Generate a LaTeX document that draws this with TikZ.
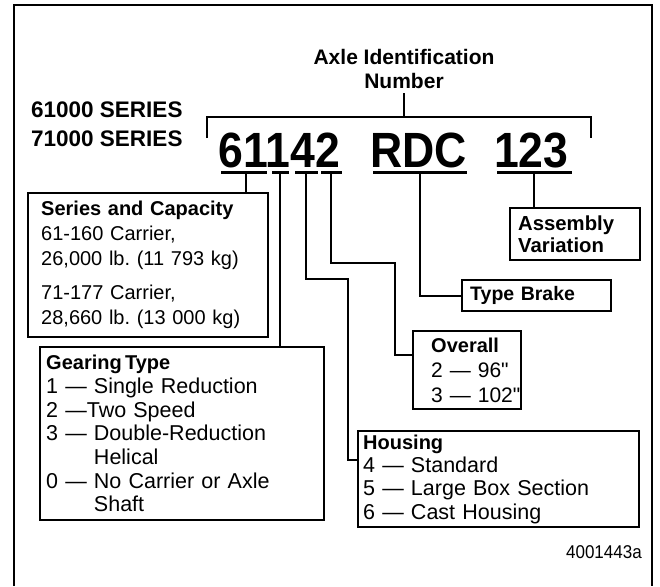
\documentclass[tikz,border=0pt]{standalone}
\usepackage{fontspec}
\setmainfont{Liberation Sans}
\newfontfamily\idfont[FakeStretch=0.9]{Liberation Sans}
\newfontfamily\fignumfont[FakeStretch=0.92]{Liberation Sans}
\usepackage{tikz}
\usetikzlibrary{calc,positioning}
\frenchspacing

\begin{document}
\begin{tikzpicture}[x=1pt,y=-1pt,
  infobox/.style={draw, line width=2.4pt, anchor=north west, align=left, inner ysep=0pt},
  lead/.style={line width=2pt},
  uline/.style={line width=3pt},
  bigid/.style={font=\idfont\bfseries\fontsize{49.5}{49.5}\selectfont, inner sep=0pt, anchor=base west},
  serlbl/.style={font=\bfseries\fontsize{22.5}{22.5}\selectfont, inner sep=0pt, anchor=base west}]
\useasboundingbox (0,0) rectangle (660,586);
\draw[line width=2.6pt] (14,586) -- (14,5) -- (652,5) -- (652,586);

% series and title
\node[serlbl] (ser61) at (31,117.5) {61000 SERIES};
\node[serlbl] (ser71) at (31,146) {71000 SERIES};
\node[font=\bfseries\fontsize{21}{24}\selectfont, align=center, inner sep=0pt] (title) at (404,69) {Axle Identification\\Number};

% bracket
\coordinate (brkL) at (207,117);
\coordinate (brkR) at (591,117);
\draw[lead] ([yshift=-21pt]brkL) -- (brkL) -- (brkR) -- ([yshift=-21pt]brkR);
\draw[lead] ([yshift=-4.5pt]title.south) -- (title.south |- brkL);

% the number
\node[bigid] (idA) at (218.5,167) {61142};
\node[bigid] (idB) at (370,167) {RDC};
\node[bigid] (idC) at (494,167) {123};
\foreach \a/\b/\m/\n in {221/267/246/sc, 272/289/280/gt, 295/318/306/hs, 321/342/331/ov, 373/467/420/tb, 497/572/534/av} {
  \draw[uline] (\a,172) -- (\b,172);
  \coordinate (u\n) at (\m,172);
}

% boxes
\node[infobox, font=\fontsize{20}{25}\selectfont, inner xsep=13pt, text width=214pt, minimum height=144pt] (sercap) at (27,192)
  {{\bfseries Series and Capacity}\\61-160 Carrier,\\26,000 lb. (11 793 kg)\\[9pt]71-177 Carrier,\\28,660 lb. (13 000 kg)};
\node[infobox, font=\fontsize{21.5}{23.7}\selectfont, inner xsep=6pt, text width=272pt, minimum height=173pt] (gear) at (39,346)
  {{\bfseries\fontsize{20}{23.7}\selectfont Gearing\,Type}\\1 — Single Reduction\\2 —Two Speed\\3 — Double-Reduction\\\phantom{3 — }Helical\\0 — No Carrier or Axle\\\phantom{0 — }Shaft};
\node[infobox, font=\fontsize{21}{25}\selectfont, inner xsep=18pt, text width=72pt, minimum height=78pt] (over) at (412,330)
  {{\bfseries\fontsize{20}{25}\selectfont Overall}\\\mbox{2 — 96\textquotedbl}\\\mbox{3 — 102\textquotedbl}};
\node[infobox, font=\fontsize{21.5}{23.3}\selectfont, inner xsep=5pt, text width=271pt, minimum height=96pt] (house) at (357,430)
  {{\bfseries\fontsize{20}{23.3}\selectfont Housing}\\4 — Standard\\5 — Large Box Section\\6 — Cast Housing};
\node[infobox, font=\bfseries\fontsize{19.5}{22}\selectfont, inner xsep=8pt, text width=133pt, minimum height=31pt] (brake) at (461,279) {Type Brake};
\node[infobox, font=\bfseries\fontsize{20.3}{22}\selectfont, inner xsep=8pt, text width=114pt, minimum height=52pt] (asm) at (509,207) {Assembly\\Variation};

% leads
\coordinate (hsbend) at (348,279);
\coordinate (ovbend) at (395,263);
\draw[lead] (usc) -- (usc |- sercap.north);
\draw[lead] (ugt) -- (ugt |- gear.north);
\draw[lead] (uhs) |- (hsbend) |- ([yshift=19pt]house.west);
\draw[lead] (uov) |- (ovbend) |- ([yshift=15pt]over.west);
\draw[lead] (utb) |- (brake.west);
\draw[lead] (uav) -- (uav |- asm.north);

\node[font=\fignumfont\fontsize{18.5}{18.5}\selectfont, anchor=base east, inner sep=0pt] (fignum) at (642,558.5) {4001443a};
\end{tikzpicture}
\end{document}
